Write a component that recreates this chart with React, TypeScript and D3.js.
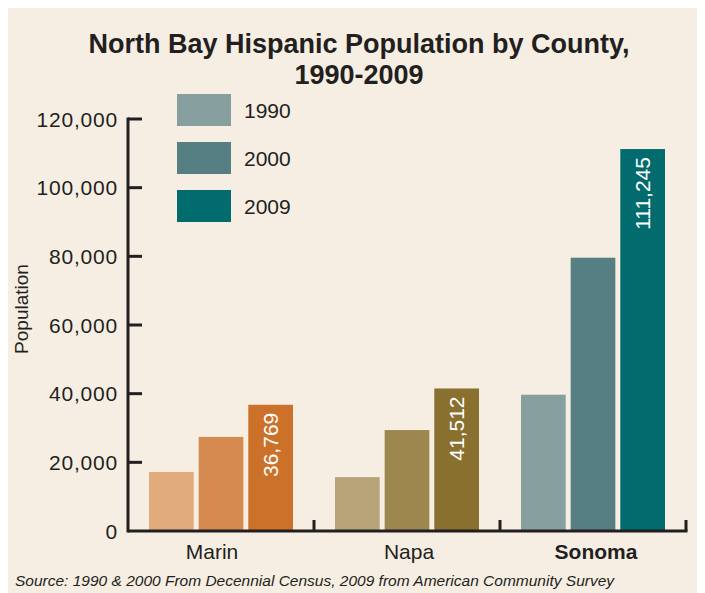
import * as d3 from "d3";
import React from "react";

const counties = ["Marin", "Napa", "Sonoma"];
const years = ["1990", "2000", "2009"];
const marinValues = [17200, 27400, 36769];
const napaValues = [15700, 29400, 41512];
const sonomaValues = [39700, 79600, 111245];
const yTicks = [0, 20000, 40000, 60000, 80000, 100000, 120000];

const seriesByCounty = [marinValues, napaValues, sonomaValues];
const colorsByCounty = [
	["#e1ab7b", "#d58b4f", "#cc7129"],
	["#b9a479", "#9e874f", "#89702f"],
	["#879f9e", "#567f84", "#016b6e"],
];

export default function App() {
	const svgRef = React.useRef<SVGSVGElement>(null);
	const width = 697;
	const height = 585;

	React.useEffect(() => {
		if (!svgRef.current) return;
		const svg = d3.select(svgRef.current);
		svg.selectAll("*").remove();

		const font = "'Liberation Sans', Arial, Helvetica, sans-serif";
		const ink = "#231f20";

		svg
			.append("rect")
			.attr("width", width)
			.attr("height", height)
			.attr("fill", "#f6eee2");

		// title
		const title = svg
			.append("text")
			.attr("text-anchor", "middle")
			.attr("font-family", font)
			.attr("font-weight", "bold")
			.attr("font-size", 27)
			.attr("fill", ink);
		title.append("tspan").attr("x", 351).attr("y", 45).text("North Bay Hispanic Population by County,");
		title.append("tspan").attr("x", 351).attr("y", 76).text("1990-2009");

		const x = d3.scaleBand<string>().domain(counties).range([120, 678]);
		const xInner = d3
			.scaleBand<string>()
			.domain(years)
			.range([21, 165])
			.paddingInner(0.1);
		const y = d3.scaleLinear().domain([0, 120000]).range([523, 111]);

		// bars
		counties.forEach((c, ci) => {
			const g = svg.append("g").attr("transform", `translate(${x(c)},0)`);
			seriesByCounty[ci].forEach((v, yi) => {
				g.append("rect")
					.attr("x", xInner(years[yi])!)
					.attr("y", y(v))
					.attr("width", xInner.bandwidth())
					.attr("height", y(0) - y(v))
					.attr("fill", colorsByCounty[ci][yi]);
			});
			// value label on the latest bar
			const last = seriesByCounty[ci][2];
			const cx = xInner(years[2])! + xInner.bandwidth() / 2;
			g.append("text")
				.attr("transform", `translate(${cx + 7},${y(last) + 8}) rotate(-90)`)
				.attr("text-anchor", "end")
				.attr("font-family", font)
				.attr("font-size", 21)
				.attr("fill", "#ffffff")
				.text(d3.format(",")(last));
		});

		// y axis
		svg
			.append("line")
			.attr("x1", 120)
			.attr("x2", 120)
			.attr("y1", y(0) + 1.5)
			.attr("y2", y(120000) - 1.5)
			.attr("stroke", ink)
			.attr("stroke-width", 3);
		yTicks.forEach((t) => {
			if (t > 0) {
				svg
					.append("line")
					.attr("x1", 120)
					.attr("x2", 134)
					.attr("y1", y(t))
					.attr("y2", y(t))
					.attr("stroke", ink)
					.attr("stroke-width", 3);
			}
			svg
				.append("text")
				.attr("x", 110)
				.attr("y", y(t))
				.attr("dy", "0.36em")
				.attr("text-anchor", "end")
				.attr("font-family", font)
				.attr("font-size", 21)
				.attr("letter-spacing", 0.8)
				.attr("fill", ink)
				.text(d3.format(",")(t));
		});

		// x axis
		svg
			.append("line")
			.attr("x1", 120)
			.attr("x2", 679.5)
			.attr("y1", y(0))
			.attr("y2", y(0))
			.attr("stroke", ink)
			.attr("stroke-width", 3);
		counties.forEach((c, ci) => {
			const bx = x(c)! + x.bandwidth();
			svg
				.append("line")
				.attr("x1", bx)
				.attr("x2", bx)
				.attr("y1", y(0))
				.attr("y2", y(0) - 11)
				.attr("stroke", ink)
				.attr("stroke-width", 3);
			// Marin's label sits a little left of its group in the original
			const nudge = ci === 0 ? -9 : ci === 2 ? 3 : 2;
			svg
				.append("text")
				.attr("x", x(c)! + x.bandwidth() / 2 + nudge)
				.attr("y", 551)
				.attr("text-anchor", "middle")
				.attr("font-family", font)
				.attr("font-size", 21)
				.attr("font-weight", ci === 2 ? "bold" : "normal")
				.attr("fill", ink)
				.text(c);
		});

		// y label
		svg
			.append("text")
			.attr("transform", "translate(20,301) rotate(-90)")
			.attr("text-anchor", "middle")
			.attr("font-family", font)
			.attr("font-size", 19)
			.attr("fill", ink)
			.text("Population");

		// legend
		years.forEach((yr, i) => {
			svg
				.append("rect")
				.attr("x", 169)
				.attr("y", 86 + i * 48)
				.attr("width", 54)
				.attr("height", 32)
				.attr("fill", colorsByCounty[2][i]);
			svg
				.append("text")
				.attr("x", 236)
				.attr("y", 102 + i * 48)
				.attr("dy", "0.36em")
				.attr("font-family", font)
				.attr("font-size", 21)
				.attr("fill", ink)
				.text(yr);
		});

		// source
		svg
			.append("text")
			.attr("x", 7)
			.attr("y", 578)
			.attr("font-family", font)
			.attr("font-style", "italic")
			.attr("font-size", 15.5)
			.attr("fill", ink)
			.text("Source: 1990 & 2000 From Decennial Census, 2009 from American Community Survey");
	}, []);

	return <svg ref={svgRef} width={width} height={height} style={{ display: "block" }} />;
}
